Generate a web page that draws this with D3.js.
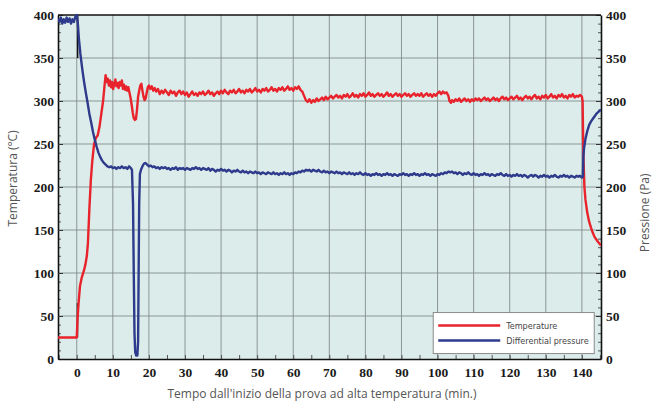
<!DOCTYPE html>
<html>
<head>
<meta charset="utf-8">
<script src="https://cdn.jsdelivr.net/npm/d3@7"></script>
<style>
  body { margin: 0; background: #fff; }
  svg { display: block; }
</style>
</head>
<body>
<div class="d3-chart"></div>
<script>
// temperature (°C), [minutes, value]
const temperature = [
  [-5.2,25],[-2,25],[0,25],[0.2,45],[0.5,65],[0.9,85],[1.4,95],[2,103],[2.4,110],[2.8,120],[3.1,135],[3.5,175],[3.9,208],[4.3,230],[4.8,250],[5.3,257],[5.8,260],[6.3,270],[6.8,285],[7.3,300],[7.7,318],[8.0,330],[8.3,322],[8.6,326],[8.9,318],[9.2,324],[9.5,316],[9.8,322],[10.1,314],[10.4,320],[10.7,325],[11,317],[11.3,321],[11.6,315],[11.9,322],[12.2,318],[12.5,324],[12.8,314],[13.1,319],[13.4,313],[13.7,317],[14,312],[14.3,316],[14.6,310],[14.9,304],[15.2,296],[15.5,287],[15.8,280],[16.1,278],[16.4,279],[16.7,290],[17,305],[17.3,312],[17.6,318],[17.9,320],[18.2,312],[18.5,305],[18.8,301],[19.1,303],[19.4,310],[19.7,316],[20,318],[20.4,314],[20.8,317],[21.2,312],[21.6,315],[22,311],[22.5,314],[23,308],[23.5,312],[24,309],[24.5,313],[25,310],[25.5,307],[26,312],[26.5,309],[27,311],[27.5,306],[28,310],[28.5,312],[29,308],[29.5,311],[30,307],[30.5,310],[31,305],[31.5,308],[32,311],[32.5,307],[33,309],[33.5,306],[34,310],[34.5,308],[35,311],[35.5,307],[36,309],[36.5,312],[37,308],[37.5,310],[38,306],[38.5,309],[39,311],[39.5,308],[40,312],[40.5,309],[41,313],[41.5,310],[42,308],[42.5,312],[43,310],[43.5,313],[44,309],[44.5,311],[45,314],[45.5,310],[46,312],[46.5,309],[47,313],[47.5,311],[48,314],[48.5,310],[49,312],[49.5,315],[50,311],[50.5,313],[51,310],[51.5,314],[52,312],[52.5,315],[53,311],[53.5,313],[54,316],[54.5,312],[55,314],[55.5,311],[56,315],[56.5,313],[57,316],[57.5,312],[58,314],[58.5,317],[59,313],[59.5,315],[60,312],[60.5,316],[61,314],[61.5,317],[62,313],[62.5,311],[63,306],[63.5,301],[64,299],[64.5,302],[65,298],[65.5,301],[66,299],[66.5,303],[67,300],[67.5,302],[68,304],[68.5,301],[69,305],[69.5,302],[70,304],[70.5,306],[71,303],[71.5,305],[72,307],[72.5,304],[73,306],[73.5,303],[74,307],[74.5,305],[75,308],[75.5,304],[76,306],[76.5,309],[77,305],[77.5,307],[78,304],[78.5,308],[79,306],[79.5,309],[80,305],[80.5,307],[81,310],[81.5,306],[82,308],[82.5,305],[83,307],[83.5,309],[84,306],[84.5,308],[85,305],[85.5,307],[86,310],[86.5,306],[87,308],[87.5,305],[88,307],[88.5,309],[89,306],[89.5,308],[90,305],[90.5,307],[91,309],[91.5,306],[92,308],[92.5,305],[93,307],[93.5,309],[94,306],[94.5,308],[95,306],[95.5,309],[96,305],[96.5,307],[97,309],[97.5,306],[98,308],[98.5,305],[99,308],[99.5,306],[100,309],[100.5,311],[101,308],[101.5,311],[102,309],[102.5,310],[103,306],[103.3,300],[103.7,298],[104,301],[104.5,299],[105,302],[105.5,300],[106,303],[106.5,299],[107,301],[107.5,303],[108,300],[108.5,302],[109,299],[109.5,302],[110,300],[110.5,303],[111,301],[111.5,303],[112,300],[112.5,302],[113,304],[113.5,301],[114,303],[114.5,300],[115,302],[115.5,304],[116,301],[116.5,303],[117,300],[117.5,303],[118,305],[118.5,302],[119,304],[119.5,301],[120,303],[120.5,305],[121,302],[121.5,304],[122,306],[122.5,302],[123,304],[123.5,301],[124,304],[124.5,306],[125,303],[125.5,305],[126,302],[126.5,305],[127,307],[127.5,303],[128,305],[128.5,302],[129,306],[129.5,304],[130,307],[130.5,303],[131,305],[131.5,308],[132,304],[132.5,306],[133,303],[133.5,307],[134,305],[134.5,308],[135,304],[135.5,306],[136,303],[136.5,307],[137,305],[137.5,308],[138,304],[138.5,306],[139,305],[139.5,307],[140,305],[140.2,300],[140.4,240],[140.7,200],[141,185],[141.5,170],[142,160],[142.5,153],[143,147],[143.5,142],[144,139],[144.5,136],[145.3,132]
];

// differential pressure (Pa), [minutes, value]
const pressure = [
  [-5.2,396],[-4.8,392],[-4.4,397],[-4,390],[-3.6,395],[-3.2,391],[-2.8,397],[-2.4,392],[-2,396],[-1.6,390],[-1.2,395],[-0.8,392],[-0.4,398],[0,400],[0.3,390],[0.6,372],[1,355],[1.5,338],[2,323],[2.5,310],[3,298],[3.5,285],[4,275],[4.5,264],[5,255],[5.5,247],[6,240],[6.5,235],[7,231],[7.5,228],[8,226],[8.5,224],[9,223],[9.5,224],[10,222],[10.5,223],[11,221],[11.5,223],[12,222],[12.5,224],[13,222],[13.5,223],[14,221],[14.5,224],[15,222],[15.3,220],[15.6,180],[15.8,100],[16,30],[16.2,8],[16.5,4],[16.8,4],[17,20],[17.15,100],[17.3,180],[17.5,215],[17.8,220],[18.2,224],[18.6,227],[19,228],[19.5,226],[20,224],[20.5,225],[21,223],[21.5,224],[22,222],[22.5,223],[23,221],[23.5,223],[24,222],[24.5,223],[25,221],[25.5,222],[26,220],[26.5,222],[27,221],[27.5,223],[28,220],[28.5,222],[29,221],[29.5,222],[30,220],[30.5,222],[31,221],[31.5,220],[32,222],[32.5,221],[33,223],[33.5,221],[34,222],[34.5,220],[35,222],[35.5,221],[36,220],[36.5,222],[37,219],[37.5,221],[38,220],[38.5,218],[39,220],[39.5,219],[40,221],[40.5,219],[41,220],[41.5,218],[42,220],[42.5,219],[43,217],[43.5,219],[44,218],[44.5,220],[45,218],[45.5,217],[46,219],[46.5,217],[47,218],[47.5,216],[48,218],[48.5,217],[49,216],[49.5,218],[50,216],[50.5,217],[51,215],[51.5,217],[52,216],[52.5,215],[53,217],[53.5,216],[54,215],[54.5,217],[55,215],[55.5,216],[56,214],[56.5,216],[57,215],[57.5,217],[58,215],[58.5,216],[59,214],[59.5,216],[60,215],[60.5,217],[61,216],[61.5,218],[62,217],[62.5,219],[63,218],[63.5,220],[64,219],[64.5,220],[65,218],[65.5,220],[66,219],[66.5,218],[67,220],[67.5,218],[68,217],[68.5,219],[69,217],[69.5,218],[70,216],[70.5,218],[71,217],[71.5,216],[72,218],[72.5,216],[73,217],[73.5,215],[74,217],[74.5,216],[75,215],[75.5,217],[76,215],[76.5,216],[77,214],[77.5,216],[78,215],[78.5,217],[79,215],[79.5,214],[80,216],[80.5,214],[81,215],[81.5,213],[82,215],[82.5,214],[83,216],[83.5,214],[84,215],[84.5,213],[85,215],[85.5,214],[86,216],[86.5,214],[87,215],[87.5,213],[88,215],[88.5,214],[89,213],[89.5,215],[90,214],[90.5,216],[91,214],[91.5,215],[92,213],[92.5,215],[93,214],[93.5,216],[94,214],[94.5,215],[95,213],[95.5,215],[96,214],[96.5,216],[97,214],[97.5,215],[98,213],[98.5,215],[99,214],[99.5,213],[100,215],[100.5,214],[101,216],[101.5,215],[102,217],[102.5,216],[103,218],[103.5,217],[104,218],[104.5,216],[105,217],[105.5,215],[106,217],[106.5,216],[107,214],[107.5,216],[108,215],[108.5,217],[109,215],[109.5,214],[110,216],[110.5,214],[111,215],[111.5,213],[112,215],[112.5,214],[113,216],[113.5,214],[114,215],[114.5,213],[115,215],[115.5,214],[116,213],[116.5,215],[117,214],[117.5,216],[118,214],[118.5,213],[119,215],[119.5,213],[120,214],[120.5,212],[121,214],[121.5,213],[122,215],[122.5,213],[123,214],[123.5,212],[124,214],[124.5,213],[125,211],[125.5,213],[126,214],[126.5,212],[127,214],[127.5,213],[128,211],[128.5,213],[129,212],[129.5,214],[130,212],[130.5,213],[131,211],[131.5,213],[132,212],[132.5,214],[133,212],[133.5,211],[134,213],[134.5,212],[135,214],[135.5,212],[136,213],[136.5,211],[137,213],[137.5,212],[138,211],[138.5,213],[139,212],[139.5,213],[140,211],[140.3,212],[140.4,235],[140.6,245],[141,256],[141.5,265],[142,272],[142.5,276],[143,279],[143.5,282],[144,285],[144.5,287],[145.3,290]
];

// short black start marks at t=0 [minutes, from, to]
const startMarks = [[0.25, 350, 400], [0.2, 25, 65]];

const xTicks = [0, 10, 20, 30, 40, 50, 60, 70, 80, 90, 100, 110, 120, 130, 140];
const yTicks = [0, 50, 100, 150, 200, 250, 300, 350, 400];
const legendItems = ["Temperature", "Differential pressure"];
const colors = ["#e8232b", "#2e3a8c"];

const W = 654, H = 405;
const margin = {top: 15, left: 58, right: 53, bottom: 46};
const width = W - margin.left - margin.right;
const height = H - margin.top - margin.bottom;

const svg = d3.select(".d3-chart").append("svg")
  .attr("width", W).attr("height", H);

const g = svg.append("g")
  .attr("transform", `translate(${margin.left},${margin.top})`);

const x = d3.scaleLinear().domain([-5.2, 145.3]).range([0, width]);
const yL = d3.scaleLinear().domain([0, 400]).range([height, 0]);
const yR = d3.scaleLinear().domain([0, 400]).range([height, 0]);

// plot background
g.append("rect").attr("width", width).attr("height", height).attr("fill", "#dcecea");

// grid
g.append("g").selectAll("line").data(xTicks).join("line")
  .attr("x1", d => x(d)).attr("x2", d => x(d))
  .attr("y1", 0).attr("y2", height)
  .attr("stroke", "#7f8988").attr("stroke-width", 1).attr("opacity", 0.85);
g.append("g").selectAll("line").data(yTicks.slice(1, -1)).join("line")
  .attr("x1", 0).attr("x2", width)
  .attr("y1", d => yL(d)).attr("y2", d => yL(d))
  .attr("stroke", "#7f8988").attr("stroke-width", 1).attr("opacity", 0.85);

// axes (ticks inward)
const tickFont = "'Liberation Serif', serif";
function styleAxis(sel) {
  sel.select(".domain").attr("stroke", "#111").attr("stroke-width", 1.6);
  sel.selectAll(".tick line").attr("stroke", "#333");
  sel.selectAll("text").attr("font-family", tickFont).attr("font-weight", "bold")
    .attr("font-size", 13.5).attr("fill", "#1a1a1a");
}

const leftMinor = g.append("g").call(d3.axisLeft(yL).ticks(40).tickSize(-3).tickFormat(""));
leftMinor.select(".domain").remove();
leftMinor.selectAll(".tick line").attr("stroke", "#555");
const rightMinor = g.append("g").attr("transform", `translate(${width},0)`)
  .call(d3.axisRight(yR).ticks(40).tickSize(-3).tickFormat(""));
rightMinor.select(".domain").remove();
rightMinor.selectAll(".tick line").attr("stroke", "#555");
const bottomMinor = g.append("g").attr("transform", `translate(0,${height})`)
  .call(d3.axisBottom(x).tickValues(d3.range(-5, 146, 5)).tickSize(-4).tickFormat(""));
bottomMinor.select(".domain").remove();
bottomMinor.selectAll(".tick line").attr("stroke", "#555");

g.append("g").call(d3.axisLeft(yL).tickValues(yTicks).tickSize(-5).tickSizeOuter(0).tickPadding(4))
  .call(styleAxis);
g.append("g").attr("transform", `translate(${width},0)`)
  .call(d3.axisRight(yR).tickValues(yTicks).tickSize(-5).tickSizeOuter(0).tickPadding(5))
  .call(styleAxis);
g.append("g").attr("transform", `translate(0,${height})`)
  .call(d3.axisBottom(x).tickValues(xTicks).tickSize(0).tickSizeOuter(0).tickPadding(8))
  .call(styleAxis);
g.append("line").attr("x1", 0).attr("x2", width).attr("y1", 0).attr("y2", 0)
  .attr("stroke", "#111").attr("stroke-width", 1.4);

// series
g.append("clipPath").attr("id", "clip").append("rect")
  .attr("x", 0).attr("y", -2).attr("width", width).attr("height", height + 2);

const lineL = d3.line().x(d => x(d[0])).y(d => yL(d[1]));
const lineR = d3.line().x(d => x(d[0])).y(d => yR(d[1]));

const plot = g.append("g").attr("clip-path", "url(#clip)");
plot.selectAll(".mark").data(startMarks).join("line")
  .attr("x1", d => x(d[0])).attr("x2", d => x(d[0]))
  .attr("y1", d => yL(d[1])).attr("y2", d => yL(d[2]))
  .attr("stroke", "#111").attr("stroke-width", 1.5);
plot.append("path").datum(temperature).attr("d", lineL)
  .attr("fill", "none").attr("stroke", colors[0]).attr("stroke-width", 2.4)
  .attr("stroke-linejoin", "round");
plot.append("path").datum(pressure).attr("d", lineR)
  .attr("fill", "none").attr("stroke", colors[1]).attr("stroke-width", 2.4)
  .attr("stroke-linejoin", "round");

// legend
const legend = g.append("g").attr("transform", `translate(${x(98.8)},${yL(54)})`);
legend.append("rect").attr("width", 161).attr("height", 41)
  .attr("fill", "#fff").attr("stroke", "#8a8a8a").attr("stroke-width", 1);
legend.selectAll(".li").data(legendItems).join("g")
  .attr("transform", (d, i) => `translate(0,${13 + i * 15})`)
  .each(function(d, i) {
    const s = d3.select(this);
    s.append("line").attr("x1", 5).attr("x2", 67).attr("stroke", colors[i]).attr("stroke-width", 2.5);
    s.append("text").attr("x", 73).attr("dy", "0.35em").text(d)
      .attr("font-family", "'DejaVu Sans Condensed', 'Liberation Sans', sans-serif")
      .attr("font-size", 9).attr("fill", "#444");
  });

// axis titles
const titleFont = "'Open Sans', sans-serif";
svg.append("text")
  .attr("transform", `translate(17,${margin.top + yL(210)}) rotate(-90)`)
  .attr("text-anchor", "middle").attr("font-family", titleFont)
  .attr("font-size", 12).attr("fill", "#555").text("Temperatura (°C)");
svg.append("text")
  .attr("transform", `translate(649,${margin.top + yL(170)}) rotate(-90)`)
  .attr("text-anchor", "middle").attr("font-family", titleFont)
  .attr("font-size", 12).attr("fill", "#555").text("Pressione (Pa)");
svg.append("text")
  .attr("x", 322).attr("y", 398)
  .attr("text-anchor", "middle").attr("font-family", titleFont)
  .attr("font-size", 12).attr("fill", "#555")
  .text("Tempo dall'inizio della prova ad alta temperatura (min.)");
</script>
</body>
</html>
